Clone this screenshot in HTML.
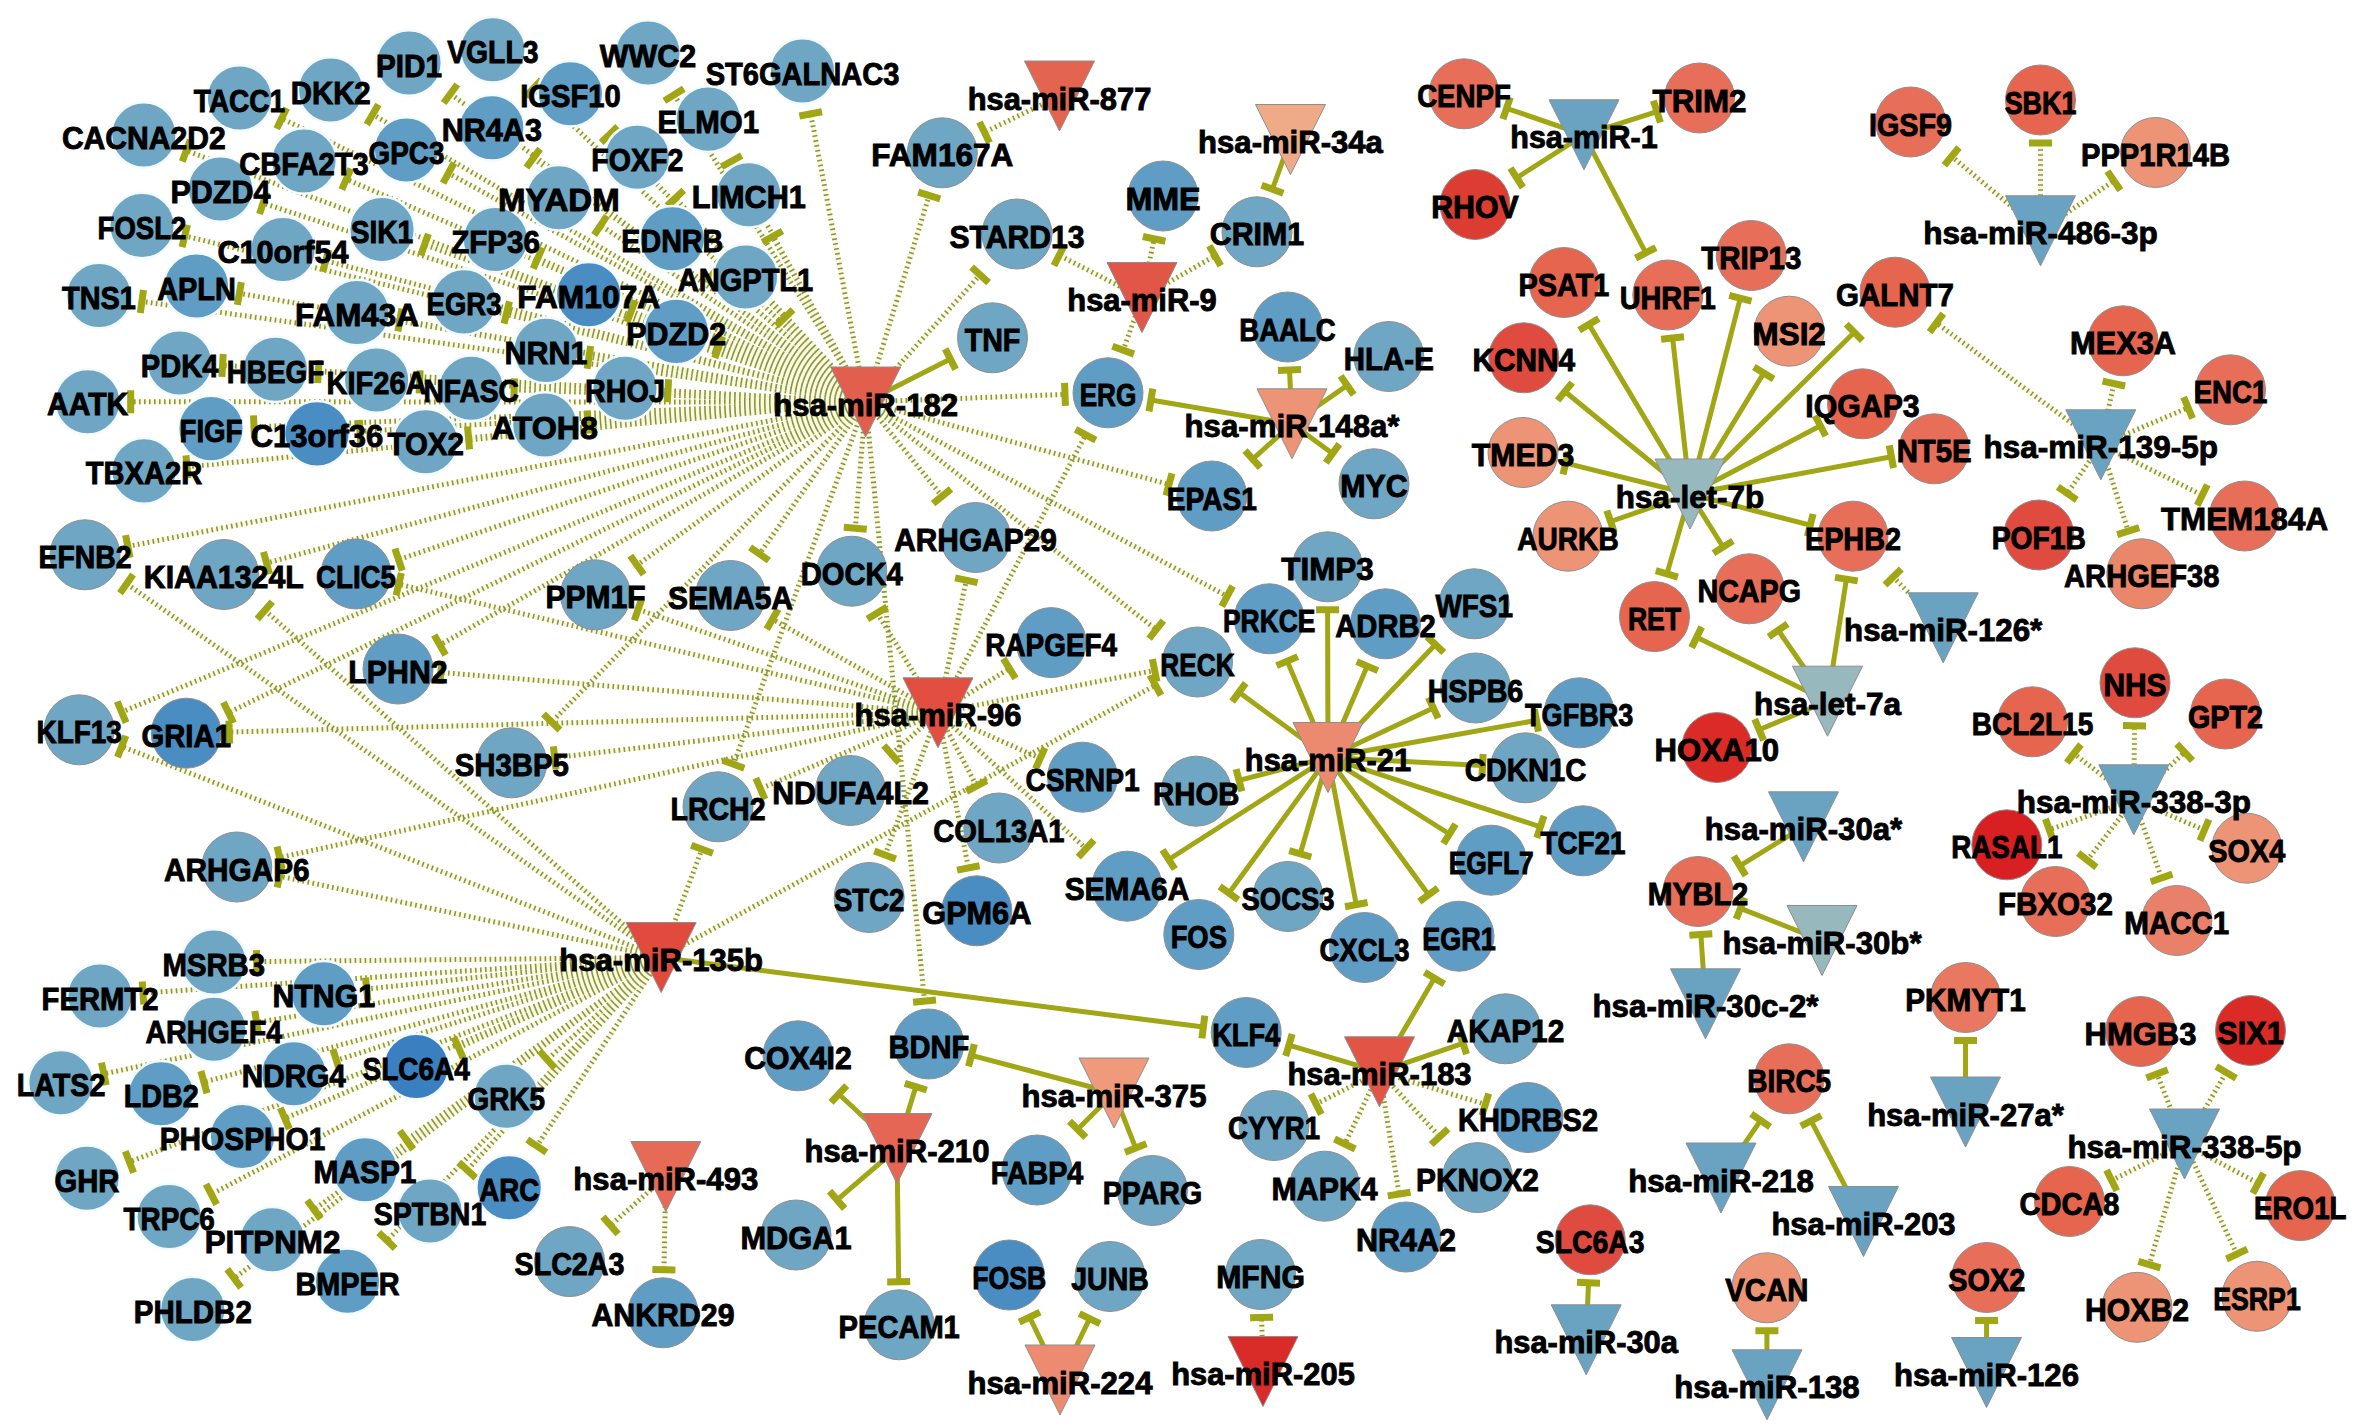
<!DOCTYPE html>
<html><head><meta charset="utf-8"><style>
html,body{margin:0;padding:0;background:#fff;overflow:hidden}
svg{display:block}
text{font-family:"Liberation Sans",sans-serif;font-weight:bold;font-size:31px;text-anchor:middle;fill:#000;stroke:#000;stroke-width:0.9px}
</style></head><body>
<svg width="2367" height="1427" viewBox="0 0 2367 1427">
<rect width="2367" height="1427" fill="#fff"/>
<path fill="none" stroke="#fafae0" stroke-width="5" d="M1059.5 96L984.5 132.3M1142 297.5L1059.1 255.4M1142 297.5L1154.1 238.8M1142 297.5L1215.1 255.7M1142 297.5L1123.2 350.2M865.6 402L186.3 150.7M865.6 402L281.7 118.5M865.6 402L372.6 114.4M865.6 402L450.4 93.8M865.6 402L533.6 88.4M865.6 402L609.5 134.6M865.6 402L533.3 158.2M865.6 402L448.5 173.1M865.6 402L346.4 179.2M865.6 402L263.1 203.1M865.6 402L184.8 235.9M865.6 402L325.7 260.7M865.6 402L424.5 244.7M865.6 402L537.8 258.1M865.6 402L600.6 225.4M865.6 402L141.9 301.5M865.6 402L239.4 293.4M865.6 402L399.9 320M865.6 402L506.8 312.6M865.6 402L631.2 311.2M865.6 402L588.9 357.3M865.6 402L674.1 94.8M865.6 402L810.7 113.9M865.6 402L731.6 161.1M865.6 402L675.4 198.1M865.6 402L772.4 236.7M865.6 402L713.4 273.5M865.6 402L784.7 317.8M865.6 402L718.7 347.2M865.6 402L668 390.7M865.6 402L222.6 365.4M865.6 402L318.4 371.6M865.6 402L419.6 381.9M865.6 402L514.2 389.8M865.6 402L587.8 421.9M865.6 402L130.7 401.8M865.6 402L254 426.9M865.6 402L360 431.4M865.6 402L468.6 437.9M865.6 402L187 466.8M865.6 402L929.2 195.4M865.6 402L980.1 274.9M865.6 402L1065 394.4M865.6 402L1169 484.4M865.6 402L1227.2 596.2M865.6 402L1156.2 629.6M865.6 402L942.1 496.3M865.6 402L855.3 528.3M865.6 402L759.5 553.9M865.6 402L637 565.1M865.6 402L398.6 559.6M865.6 402L266.5 563M865.6 402L127.9 546.4M865.6 402L121.6 712.1M865.6 402L228.4 712.7M865.6 402L439.9 645M865.6 402L551.7 722M865.6 402L733.5 764.2M865.6 402L924.5 1001M938 712.8L1085.7 434.8M938 712.8L966.3 580.3M938 712.8L877.2 613.1M938 712.8L772.5 619.2M938 712.8L638.1 609.4M938 712.8L398.8 584.2M938 712.8L441 672.5M938 712.8L229.2 732.1M938 712.8L554.7 757.7M938 712.8L279.6 857.6M938 712.8L760.4 788.7M938 712.8L891.5 754.1M938 712.8L885.1 855M938 712.8L968.4 867.9M938 712.8L976.6 785.9M938 712.8L1040.2 758.4M938 712.8L1086.1 848.7M938 712.8L1009.4 668.5M938 712.8L1154.6 670.4M661.2 957.5L256.7 961.6M661.2 957.5L143 993.1M661.2 957.5L366.7 989.1M661.2 957.5L256.6 1022.4M661.2 957.5L103.8 1073.8M661.2 957.5L204 1082.1M661.2 957.5L336.4 1060.3M661.2 957.5L458.6 1047.7M661.2 957.5L547.2 1059.6M661.2 957.5L284.9 1118.4M661.2 957.5L129.5 1161.9M661.2 957.5L406.5 1140M661.2 957.5L536.8 1146.1M661.2 957.5L211.3 1194.3M661.2 957.5L467.3 1170.1M661.2 957.5L314 1209.6M661.2 957.5L387 1240.5M661.2 957.5L234.1 1278.4M661.2 957.5L126.6 583.8M661.2 957.5L264.8 610.4M661.2 957.5L121.7 746.4M661.2 957.5L279.6 876.1M661.2 957.5L702 849.2M661.2 957.5L1155.5 685.1M1379.5 1071.8L1316.1 1104M1379.5 1071.8L1344.8 1144M1379.5 1071.8L1399.1 1194.1M1379.5 1071.8L1439.7 1136.7M1379.5 1071.8L1485.4 1104.4M665.8 1176.5L610.5 1225.4M665.8 1176.5L663.9 1269.8M1263 1371.5L1261.6 1317.5M2184.5 1144L2157.1 1074M2184.5 1144L2226.1 1072.4M2184.5 1144L2111.7 1180.4M2184.5 1144L2258.2 1183.2M2184.5 1144L2149.4 1264.6M2184.5 1144L2236.9 1254.1M2133.8 799.8L2134.5 725.7M2133.8 799.8L2073.8 753.6M2133.8 799.8L2184.7 752.2M2133.8 799.8L2049.3 829.7M2133.8 799.8L2204.4 830.1M2133.8 799.8L2087.3 860.2M2133.8 799.8L2161.6 878M1943.2 627.8L1893.1 576.9M2100.8 444.8L1936.4 322.9M2100.8 444.8L2113.8 383.6M2100.8 444.8L2188.1 407.7M2100.8 444.8L2202.3 495.1M2100.8 444.8L2128.2 531.1M2100.8 444.8L2067.3 493.4M2040.5 230.8L1951.6 156.4M2040.5 230.8L2040.5 143M2040.5 230.8L2113.9 180.8"/>
<path fill="none" stroke="#8c943c" stroke-width="5" stroke-dasharray="1.6 3.4" d="M1059.5 96L984.5 132.3M1142 297.5L1059.1 255.4M1142 297.5L1154.1 238.8M1142 297.5L1215.1 255.7M1142 297.5L1123.2 350.2M865.6 402L186.3 150.7M865.6 402L281.7 118.5M865.6 402L372.6 114.4M865.6 402L450.4 93.8M865.6 402L533.6 88.4M865.6 402L609.5 134.6M865.6 402L533.3 158.2M865.6 402L448.5 173.1M865.6 402L346.4 179.2M865.6 402L263.1 203.1M865.6 402L184.8 235.9M865.6 402L325.7 260.7M865.6 402L424.5 244.7M865.6 402L537.8 258.1M865.6 402L600.6 225.4M865.6 402L141.9 301.5M865.6 402L239.4 293.4M865.6 402L399.9 320M865.6 402L506.8 312.6M865.6 402L631.2 311.2M865.6 402L588.9 357.3M865.6 402L674.1 94.8M865.6 402L810.7 113.9M865.6 402L731.6 161.1M865.6 402L675.4 198.1M865.6 402L772.4 236.7M865.6 402L713.4 273.5M865.6 402L784.7 317.8M865.6 402L718.7 347.2M865.6 402L668 390.7M865.6 402L222.6 365.4M865.6 402L318.4 371.6M865.6 402L419.6 381.9M865.6 402L514.2 389.8M865.6 402L587.8 421.9M865.6 402L130.7 401.8M865.6 402L254 426.9M865.6 402L360 431.4M865.6 402L468.6 437.9M865.6 402L187 466.8M865.6 402L929.2 195.4M865.6 402L980.1 274.9M865.6 402L1065 394.4M865.6 402L1169 484.4M865.6 402L1227.2 596.2M865.6 402L1156.2 629.6M865.6 402L942.1 496.3M865.6 402L855.3 528.3M865.6 402L759.5 553.9M865.6 402L637 565.1M865.6 402L398.6 559.6M865.6 402L266.5 563M865.6 402L127.9 546.4M865.6 402L121.6 712.1M865.6 402L228.4 712.7M865.6 402L439.9 645M865.6 402L551.7 722M865.6 402L733.5 764.2M865.6 402L924.5 1001M938 712.8L1085.7 434.8M938 712.8L966.3 580.3M938 712.8L877.2 613.1M938 712.8L772.5 619.2M938 712.8L638.1 609.4M938 712.8L398.8 584.2M938 712.8L441 672.5M938 712.8L229.2 732.1M938 712.8L554.7 757.7M938 712.8L279.6 857.6M938 712.8L760.4 788.7M938 712.8L891.5 754.1M938 712.8L885.1 855M938 712.8L968.4 867.9M938 712.8L976.6 785.9M938 712.8L1040.2 758.4M938 712.8L1086.1 848.7M938 712.8L1009.4 668.5M938 712.8L1154.6 670.4M661.2 957.5L256.7 961.6M661.2 957.5L143 993.1M661.2 957.5L366.7 989.1M661.2 957.5L256.6 1022.4M661.2 957.5L103.8 1073.8M661.2 957.5L204 1082.1M661.2 957.5L336.4 1060.3M661.2 957.5L458.6 1047.7M661.2 957.5L547.2 1059.6M661.2 957.5L284.9 1118.4M661.2 957.5L129.5 1161.9M661.2 957.5L406.5 1140M661.2 957.5L536.8 1146.1M661.2 957.5L211.3 1194.3M661.2 957.5L467.3 1170.1M661.2 957.5L314 1209.6M661.2 957.5L387 1240.5M661.2 957.5L234.1 1278.4M661.2 957.5L126.6 583.8M661.2 957.5L264.8 610.4M661.2 957.5L121.7 746.4M661.2 957.5L279.6 876.1M661.2 957.5L702 849.2M661.2 957.5L1155.5 685.1M1379.5 1071.8L1316.1 1104M1379.5 1071.8L1344.8 1144M1379.5 1071.8L1399.1 1194.1M1379.5 1071.8L1439.7 1136.7M1379.5 1071.8L1485.4 1104.4M665.8 1176.5L610.5 1225.4M665.8 1176.5L663.9 1269.8M1263 1371.5L1261.6 1317.5M2184.5 1144L2157.1 1074M2184.5 1144L2226.1 1072.4M2184.5 1144L2111.7 1180.4M2184.5 1144L2258.2 1183.2M2184.5 1144L2149.4 1264.6M2184.5 1144L2236.9 1254.1M2133.8 799.8L2134.5 725.7M2133.8 799.8L2073.8 753.6M2133.8 799.8L2184.7 752.2M2133.8 799.8L2049.3 829.7M2133.8 799.8L2204.4 830.1M2133.8 799.8L2087.3 860.2M2133.8 799.8L2161.6 878M1943.2 627.8L1893.1 576.9M2100.8 444.8L1936.4 322.9M2100.8 444.8L2113.8 383.6M2100.8 444.8L2188.1 407.7M2100.8 444.8L2202.3 495.1M2100.8 444.8L2128.2 531.1M2100.8 444.8L2067.3 493.4M2040.5 230.8L1951.6 156.4M2040.5 230.8L2040.5 143M2040.5 230.8L2113.9 180.8"/>
<path fill="none" stroke="#a0a614" stroke-width="5" d="M1290.5 139.5L1272.4 189.2M865.6 402L950.4 359.1M661.2 957.5L1203.3 1027M1292 423.8L1289.5 370M1292 423.8L1347.2 385.4M1292 423.8L1150.9 400M1292 423.8L1252.7 459.1M1292 423.8L1332.5 453.4M1328 757.5L1239 692.3M1328 757.5L1287.2 661.1M1328 757.5L1327.6 609.7M1328 757.5L1367.3 666.1M1328 757.5L1435.4 644.5M1328 757.5L1433.3 707.9M1328 757.5L1536.4 720.4M1328 757.5L1482.5 765.5M1328 757.5L1239 780.3M1328 757.5L1540.4 826.8M1328 757.5L1449.5 834M1328 757.5L1168.7 859.5M1328 757.5L1300.3 853.8M1328 757.5L1229 893M1328 757.5L1356.3 904.6M1328 757.5L1428.6 894.8M1379.5 1071.8L1288.9 1045.1M1379.5 1071.8L1434.4 978.2M1379.5 1071.8L1462.9 1043.3M1114 1093L971.5 1055.3M1114 1093L1077.7 1129.3M1114 1093L1135.7 1148.1M897 1148.5L838.8 1094M897 1148.5L915.8 1086.7M897 1148.5L837.1 1199.8M897 1148.5L898.7 1281.8M1060 1380L1029.6 1317.2M1060 1380L1089.6 1318.7M1586.2 1339.8L1588.5 1282.8M1767 1384.8L1766.9 1330.7M1986.5 1372.5L1986.6 1320.5M1721 1178L1760.6 1120.3M1863.5 1221.5L1811.1 1120.8M1965.5 1112L1965.5 1040.5M1705.5 1003.8L1700.9 934.5M1822 940.5L1740.4 908.3M1803.5 826.8L1739.8 865.8M1827.5 701.2L1696.7 637.2M1827.5 701.2L1778.2 630.3M1827.5 701.2L1846.4 579.2M1827.5 701.2L1759.1 729.8M1690 494L1588.9 324.4M1690 494L1672.6 338M1690 494L1740.3 298.2M1690 494L1763.7 373.1M1690 494L1854.3 332.3M1690 494L1564.9 391.5M1690 494L1820.4 425.8M1690 494L1565.8 463.1M1690 494L1891.4 456.7M1690 494L1610.6 521.5M1690 494L1810.3 525.2M1690 494L1666.9 573.9M1690 494L1723.1 547M1584 134.8L1506.6 108.3M1584 134.8L1656.9 111.6M1584 134.8L1516.7 177.8M1584 134.8L1645.8 252.9"/>
<path fill="none" stroke="#a0a614" stroke-width="7" d="M989.5 142.7L979.5 122M1283.3 193.2L1261.6 185.3M1053.9 265.7L1064.3 245.2M1142.9 236.5L1165.4 241.2M1209.3 245.7L1220.8 265.7M1134 354.1L1112.4 346.3M945.2 348.8L955.6 369.3M182.3 161.5L190.2 139.9M276.7 128.8L286.7 108.1M366.8 124.4L378.4 104.5M443.6 103L457.3 84.5M525.7 96.7L541.5 80M601.2 142.5L617.8 126.6M526.4 167.5L540.1 148.9M443 183.1L454 163M341.8 189.7L350.9 168.6M259.5 214L266.7 192.1M182 247.1L187.5 224.8M322.8 271.8L328.7 249.6M420.7 255.5L428.4 233.8M533.2 268.6L542.4 247.6M594.2 235L606.9 215.9M140.3 312.9L143.5 290.1M237.4 304.8L241.3 282.1M397.9 331.4L401.9 308.7M504 323.7L509.5 301.4M627 322L635.3 300.5M587.1 368.7L590.7 346M664.3 100.9L683.8 88.7M799.4 116L822 111.7M721.6 166.7L741.7 155.5M667 205.9L683.8 190.2M762.4 242.3L782.5 231M706 282.3L720.8 264.7M776.4 325.7L793 309.8M714.7 358L722.7 336.5M667.3 402.1L668.6 379.2M221.9 376.9L223.2 354M317.7 383.1L319 360.1M419.1 393.4L420.1 370.4M513.8 401.3L514.6 378.3M588.6 433.4L587 410.4M130.7 413.3L130.7 390.3M254.5 438.3L253.5 415.4M360.7 442.9L359.3 419.9M469.6 449.4L467.5 426.5M188.1 478.2L185.9 455.3M918.2 192.1L940.2 198.8M971.6 267.2L988.6 282.6M1064.6 382.9L1065.4 405.9M1172 473.3L1166 495.5M1232.6 586L1221.8 606.3M1163.3 620.6L1149.1 638.7M951 489L933.1 503.5M866.7 529.2L843.8 527.3M768.9 560.5L750.1 547.4M643.7 574.5L630.3 555.8M402.3 570.5L394.9 548.7M269.5 574.1L263.5 551.9M130.1 557.7L125.6 535.1M126.1 722.7L117.2 701.5M233.5 723L223.4 702.3M445.6 655L434.2 635.1M559.9 730.1L543.5 714M744.3 768.2L722.7 760.3M936 999.9L913.1 1002.2M1075.5 429.4L1095.8 440.2M955.1 577.9L977.6 582.7M867.4 619.1L887.1 607.1M766.8 629.2L778.1 609.2M634.3 620.3L641.8 598.5M396.1 595.4L401.4 573M440 683.9L441.9 661M229.6 743.6L228.9 720.6M556 769.1L553.4 746.3M282 868.8L277.1 846.4M764.9 799.2L755.8 778.1M899.1 762.7L883.8 745.5M895.8 859L874.3 851M979.6 865.7L957.1 870.1M986.7 780.6L966.4 791.3M1044.9 747.9L1035.5 768.9M1093.9 840.2L1078.3 857.2M1003.3 658.7L1015.5 678.3M1152.4 659.1L1156.9 681.7M1204.8 1015.6L1201.9 1038.4M256.9 973.1L256.6 950.1M143.8 1004.5L142.2 981.6M367.9 1000.6L365.5 977.7M258.5 1033.7L254.8 1011M106.2 1085.1L101.5 1062.6M207 1093.2L200.9 1071M339.8 1071.2L332.9 1049.3M463.2 1058.2L453.9 1037.2M554.9 1068.2L539.5 1051M289.4 1129L280.3 1107.8M133.6 1172.7L125.3 1151.2M413.2 1149.4L399.8 1130.7M546.4 1152.4L527.2 1139.7M216.7 1204.5L206 1184.2M475.8 1177.8L458.8 1162.3M320.7 1218.9L307.2 1200.3M395.2 1248.5L378.7 1232.5M241.1 1287.6L227.2 1269.2M120 593.2L133.1 574.4M257.2 619.1L272.3 601.8M117.5 757.1L125.9 735.7M277.2 887.4L282 864.9M691.2 845.2L712.8 853.3M1149.9 675.1L1161 695.2M1278 370.5L1301 369.5M1340.6 376L1353.7 394.8M1149 411.3L1152.8 388.6M1260.4 467.7L1245 450.6M1339.3 444.1L1325.8 462.7M1232.2 701.6L1245.7 683.1M1276.6 665.6L1297.8 656.6M1316.1 609.8L1339.1 609.7M1356.7 661.6L1377.9 670.6M1427.1 636.6L1443.8 652.5M1428.4 697.5L1438.2 718.3M1534.4 709.1L1538.4 731.7M1483.1 754L1481.9 777M1241.9 791.4L1236.1 769.2M1544 815.9L1536.8 837.8M1455.6 824.2L1443.4 843.7M1174.9 869.2L1162.5 849.8M1311.3 857L1289.2 850.6M1238.3 899.8L1219.7 886.3M1367.6 902.5L1345 906.8M1437.9 888L1419.3 901.6M1285.7 1056.1L1292.2 1034M1424.5 972.3L1444.3 984M1459.2 1032.4L1466.6 1054.2M1321.3 1114.3L1310.9 1093.8M1355.2 1149L1334.5 1139M1410.5 1192.3L1387.8 1195.9M1448.1 1128.9L1431.2 1144.5M1488.7 1093.4L1482 1115.4M968.5 1066.4L974.4 1044.2M1085.8 1137.5L1069.5 1121.2M1146.4 1143.8L1125 1152.3M831 1102.4L846.7 1085.6M904.8 1083.3L926.8 1090M844.6 1208.6L829.6 1191.1M910.2 1281.6L887.2 1281.9M618.1 1234L602.9 1216.7M675.4 1270L652.4 1269.5M1019.3 1322.2L1040 1312.2M1079.3 1313.7L1100 1323.7M1250.1 1317.8L1273.1 1317.2M1577 1282.3L1600 1283.2M1755.4 1330.8L1778.4 1330.7M1975.1 1320.5L1998.1 1320.5M1751.2 1113.8L1770.1 1126.9M1800.9 1126.2L1821.3 1115.5M1954 1040.5L1977 1040.5M1689.4 935.2L1712.3 933.7M1736.2 919L1744.7 897.6M1745.8 875.6L1733.8 856M2146.4 1078.1L2167.8 1069.8M2216.2 1066.6L2236.1 1078.2M2116.8 1190.7L2106.5 1170.1M2263.6 1173.1L2252.8 1193.4M2160.5 1267.8L2138.4 1261.4M2247.3 1249.1L2226.5 1259M2123 725.6L2146 725.9M2066.8 762.7L2080.9 744.5M2176.8 743.8L2192.5 760.6M2053.1 840.5L2045.4 818.8M2208.9 819.5L2199.9 840.6M2096.4 867.2L2078.2 853.1M2172.4 874.1L2150.8 881.8M1691.6 647.6L1701.7 626.9M1768.7 636.9L1787.6 623.8M1835 577.4L1857.7 580.9M1763.6 740.4L1754.7 719.2M1885 585L1901.3 568.9M1579.1 330.3L1598.8 318.5M1661.1 339.2L1684 336.7M1729.2 295.4L1751.5 301.1M1753.9 367.1L1773.6 379.1M1846.2 324.1L1862.4 340.5M1557.6 400.4L1572.2 382.6M1815.1 415.6L1825.7 436M1563 474.3L1568.5 452M1889.3 445.4L1893.5 468M1614.3 532.4L1606.8 510.6M1813.1 514L1807.4 536.3M1677.9 577.1L1655.8 570.7M1732.9 540.9L1713.4 553.1M1929.6 332.2L1943.3 313.7M2102.6 381.2L2125.1 386M2183.6 397.1L2192.6 418.3M2207.4 484.8L2197.2 505.4M2139.2 527.6L2117.2 534.6M2076.8 499.9L2057.8 486.9M1502.9 119.2L1510.3 97.4M1653.4 100.6L1660.4 122.5M1522.9 187.5L1510.5 168.1M1655.9 247.6L1635.6 258.2M1944.3 165.2L1959 147.6M2029 143L2052 143M2107.4 171.3L2120.4 190.3"/>
<circle cx="143.8" cy="135" r="32.8" fill="#6fa6c3" stroke="#f4fbff" stroke-width="2.5"/>
<circle cx="239.5" cy="98" r="32.8" fill="#6fa6c3" stroke="#f4fbff" stroke-width="2.5"/>
<circle cx="330.7" cy="90" r="32.8" fill="#6fa6c3" stroke="#f4fbff" stroke-width="2.5"/>
<circle cx="409" cy="63" r="32.8" fill="#6fa6c3" stroke="#f4fbff" stroke-width="2.5"/>
<circle cx="492.8" cy="49.8" r="32.8" fill="#6fa6c3" stroke="#f4fbff" stroke-width="2.5"/>
<circle cx="570.4" cy="93.8" r="32.8" fill="#5f9dc5" stroke="#f4fbff" stroke-width="2.5"/>
<circle cx="491.8" cy="127.8" r="32.8" fill="#5f9dc5" stroke="#f4fbff" stroke-width="2.5"/>
<circle cx="406.5" cy="150" r="32.8" fill="#5f9dc5" stroke="#f4fbff" stroke-width="2.5"/>
<circle cx="304" cy="161" r="32.8" fill="#6fa6c3" stroke="#f4fbff" stroke-width="2.5"/>
<circle cx="220.5" cy="189" r="32.8" fill="#6fa6c3" stroke="#f4fbff" stroke-width="2.5"/>
<circle cx="142" cy="225.5" r="32.8" fill="#6fa6c3" stroke="#f4fbff" stroke-width="2.5"/>
<circle cx="283" cy="249.5" r="32.8" fill="#6fa6c3" stroke="#f4fbff" stroke-width="2.5"/>
<circle cx="382" cy="229.5" r="32.8" fill="#6fa6c3" stroke="#f4fbff" stroke-width="2.5"/>
<circle cx="495.5" cy="239.5" r="32.8" fill="#6fa6c3" stroke="#f4fbff" stroke-width="2.5"/>
<circle cx="558.9" cy="197.7" r="32.8" fill="#6fa6c3" stroke="#f4fbff" stroke-width="2.5"/>
<circle cx="99" cy="295.5" r="32.8" fill="#6fa6c3" stroke="#f4fbff" stroke-width="2.5"/>
<circle cx="196.5" cy="286" r="32.8" fill="#5f9dc5" stroke="#f4fbff" stroke-width="2.5"/>
<circle cx="357" cy="312.5" r="32.8" fill="#6fa6c3" stroke="#f4fbff" stroke-width="2.5"/>
<circle cx="464" cy="301.9" r="32.8" fill="#6fa6c3" stroke="#f4fbff" stroke-width="2.5"/>
<circle cx="588.7" cy="294.8" r="32.8" fill="#4a8dc2" stroke="#f4fbff" stroke-width="2.5"/>
<circle cx="546" cy="350.4" r="32.8" fill="#6fa6c3" stroke="#f4fbff" stroke-width="2.5"/>
<circle cx="648" cy="53" r="32.8" fill="#6fa6c3" stroke="#f4fbff" stroke-width="2.5"/>
<circle cx="802.5" cy="71" r="32.8" fill="#6fa6c3" stroke="#f4fbff" stroke-width="2.5"/>
<circle cx="708.3" cy="119.1" r="32.8" fill="#6fa6c3" stroke="#f4fbff" stroke-width="2.5"/>
<circle cx="637.3" cy="157.2" r="32.8" fill="#6fa6c3" stroke="#f4fbff" stroke-width="2.5"/>
<circle cx="748.8" cy="194.7" r="32.8" fill="#6fa6c3" stroke="#f4fbff" stroke-width="2.5"/>
<circle cx="672.3" cy="238.8" r="32.8" fill="#5f9dc5" stroke="#f4fbff" stroke-width="2.5"/>
<circle cx="745.5" cy="277" r="32.8" fill="#6fa6c3" stroke="#f4fbff" stroke-width="2.5"/>
<circle cx="676.2" cy="331.4" r="32.8" fill="#5f9dc5" stroke="#f4fbff" stroke-width="2.5"/>
<circle cx="625" cy="388.2" r="32.8" fill="#6fa6c3" stroke="#f4fbff" stroke-width="2.5"/>
<circle cx="179.6" cy="363" r="32.8" fill="#6fa6c3" stroke="#f4fbff" stroke-width="2.5"/>
<circle cx="275.4" cy="369.2" r="32.8" fill="#6fa6c3" stroke="#f4fbff" stroke-width="2.5"/>
<circle cx="376.6" cy="380" r="32.8" fill="#6fa6c3" stroke="#f4fbff" stroke-width="2.5"/>
<circle cx="471.2" cy="388.3" r="32.8" fill="#6fa6c3" stroke="#f4fbff" stroke-width="2.5"/>
<circle cx="544.8" cy="425" r="32.8" fill="#6fa6c3" stroke="#f4fbff" stroke-width="2.5"/>
<circle cx="87.7" cy="401.8" r="32.8" fill="#6fa6c3" stroke="#f4fbff" stroke-width="2.5"/>
<circle cx="211" cy="428.6" r="32.8" fill="#5f9dc5" stroke="#f4fbff" stroke-width="2.5"/>
<circle cx="317" cy="433.9" r="32.8" fill="#4a8dc2" stroke="#f4fbff" stroke-width="2.5"/>
<circle cx="425.6" cy="441.8" r="32.8" fill="#6fa6c3" stroke="#f4fbff" stroke-width="2.5"/>
<circle cx="144" cy="470.9" r="32.8" fill="#6fa6c3" stroke="#f4fbff" stroke-width="2.5"/>
<circle cx="213.8" cy="962" r="32.8" fill="#6fa6c3" stroke="#f4fbff" stroke-width="2.5"/>
<circle cx="100" cy="996" r="32.8" fill="#6fa6c3" stroke="#f4fbff" stroke-width="2.5"/>
<circle cx="323.8" cy="993.8" r="32.8" fill="#5f9dc5" stroke="#f4fbff" stroke-width="2.5"/>
<circle cx="213.8" cy="1029.2" r="32.8" fill="#6fa6c3" stroke="#f4fbff" stroke-width="2.5"/>
<circle cx="61" cy="1082.8" r="32.8" fill="#6fa6c3" stroke="#f4fbff" stroke-width="2.5"/>
<circle cx="161.2" cy="1093.8" r="32.8" fill="#5f9dc5" stroke="#f4fbff" stroke-width="2.5"/>
<circle cx="293.8" cy="1073.8" r="32.8" fill="#5f9dc5" stroke="#f4fbff" stroke-width="2.5"/>
<circle cx="416.2" cy="1066.5" r="32.8" fill="#3a80c0" stroke="#f4fbff" stroke-width="2.5"/>
<circle cx="506.2" cy="1096.2" r="32.8" fill="#6fa6c3" stroke="#f4fbff" stroke-width="2.5"/>
<circle cx="242.5" cy="1136.5" r="32.8" fill="#5f9dc5" stroke="#f4fbff" stroke-width="2.5"/>
<circle cx="87" cy="1178.2" r="32.8" fill="#6fa6c3" stroke="#f4fbff" stroke-width="2.5"/>
<circle cx="365" cy="1169.8" r="32.8" fill="#5f9dc5" stroke="#f4fbff" stroke-width="2.5"/>
<circle cx="509.2" cy="1187.8" r="32.8" fill="#4a8dc2" stroke="#f4fbff" stroke-width="2.5"/>
<circle cx="169.2" cy="1216.5" r="32.8" fill="#6fa6c3" stroke="#f4fbff" stroke-width="2.5"/>
<circle cx="430" cy="1211" r="32.8" fill="#6fa6c3" stroke="#f4fbff" stroke-width="2.5"/>
<circle cx="272.5" cy="1239.8" r="32.8" fill="#6fa6c3" stroke="#f4fbff" stroke-width="2.5"/>
<circle cx="347.5" cy="1281.2" r="32.8" fill="#5f9dc5" stroke="#f4fbff" stroke-width="2.5"/>
<circle cx="192.8" cy="1309.5" r="32.8" fill="#6fa6c3" stroke="#f4fbff" stroke-width="2.5"/>
<circle cx="942.3" cy="152.8" r="35" fill="#6fa6c3" stroke="#8e8e8e" stroke-width="1"/>
<circle cx="1163" cy="196" r="35" fill="#5f9dc5" stroke="#8e8e8e" stroke-width="1"/>
<circle cx="1017" cy="234" r="35" fill="#6fa6c3" stroke="#8e8e8e" stroke-width="1"/>
<circle cx="992.5" cy="337.8" r="35" fill="#6fa6c3" stroke="#8e8e8e" stroke-width="1"/>
<circle cx="1257" cy="231.8" r="35" fill="#6fa6c3" stroke="#8e8e8e" stroke-width="1"/>
<circle cx="1287.5" cy="327" r="35" fill="#5f9dc5" stroke="#8e8e8e" stroke-width="1"/>
<circle cx="1388.8" cy="356.5" r="35" fill="#6fa6c3" stroke="#8e8e8e" stroke-width="1"/>
<circle cx="1108" cy="392.8" r="35" fill="#5f9dc5" stroke="#8e8e8e" stroke-width="1"/>
<circle cx="1211.8" cy="496" r="35" fill="#5f9dc5" stroke="#8e8e8e" stroke-width="1"/>
<circle cx="1374" cy="483.8" r="35" fill="#6fa6c3" stroke="#8e8e8e" stroke-width="1"/>
<circle cx="1327.5" cy="566.8" r="35" fill="#6fa6c3" stroke="#8e8e8e" stroke-width="1"/>
<circle cx="1269.2" cy="618.8" r="35" fill="#5f9dc5" stroke="#8e8e8e" stroke-width="1"/>
<circle cx="1385.5" cy="623.8" r="35" fill="#5f9dc5" stroke="#8e8e8e" stroke-width="1"/>
<circle cx="1474.2" cy="603.8" r="35" fill="#6fa6c3" stroke="#8e8e8e" stroke-width="1"/>
<circle cx="1197.5" cy="662" r="35" fill="#6fa6c3" stroke="#8e8e8e" stroke-width="1"/>
<circle cx="1475.5" cy="688" r="35" fill="#6fa6c3" stroke="#8e8e8e" stroke-width="1"/>
<circle cx="1579.2" cy="712.8" r="35" fill="#5f9dc5" stroke="#8e8e8e" stroke-width="1"/>
<circle cx="1525.5" cy="767.8" r="35" fill="#6fa6c3" stroke="#8e8e8e" stroke-width="1"/>
<circle cx="1196.2" cy="791.2" r="35" fill="#6fa6c3" stroke="#8e8e8e" stroke-width="1"/>
<circle cx="1583" cy="840.8" r="35" fill="#5f9dc5" stroke="#8e8e8e" stroke-width="1"/>
<circle cx="1491.2" cy="860.2" r="35" fill="#5f9dc5" stroke="#8e8e8e" stroke-width="1"/>
<circle cx="1127" cy="886.2" r="35" fill="#5f9dc5" stroke="#8e8e8e" stroke-width="1"/>
<circle cx="1288" cy="896.5" r="35" fill="#6fa6c3" stroke="#8e8e8e" stroke-width="1"/>
<circle cx="1198.8" cy="934.5" r="35" fill="#5f9dc5" stroke="#8e8e8e" stroke-width="1"/>
<circle cx="1364.5" cy="947.5" r="35" fill="#5f9dc5" stroke="#8e8e8e" stroke-width="1"/>
<circle cx="1459" cy="936.2" r="35" fill="#5f9dc5" stroke="#8e8e8e" stroke-width="1"/>
<circle cx="85" cy="554.8" r="35" fill="#6fa6c3" stroke="#8e8e8e" stroke-width="1"/>
<circle cx="223.8" cy="574.5" r="35" fill="#6fa6c3" stroke="#8e8e8e" stroke-width="1"/>
<circle cx="356" cy="574" r="35" fill="#5f9dc5" stroke="#8e8e8e" stroke-width="1"/>
<circle cx="398" cy="669" r="35" fill="#5f9dc5" stroke="#8e8e8e" stroke-width="1"/>
<circle cx="595.5" cy="594.8" r="35" fill="#6fa6c3" stroke="#8e8e8e" stroke-width="1"/>
<circle cx="730.5" cy="595.5" r="35" fill="#6fa6c3" stroke="#8e8e8e" stroke-width="1"/>
<circle cx="851.8" cy="571.2" r="35" fill="#6fa6c3" stroke="#8e8e8e" stroke-width="1"/>
<circle cx="975.5" cy="537.5" r="35" fill="#6fa6c3" stroke="#8e8e8e" stroke-width="1"/>
<circle cx="1051.2" cy="642.6" r="35" fill="#5f9dc5" stroke="#8e8e8e" stroke-width="1"/>
<circle cx="79.2" cy="729.8" r="35" fill="#6fa6c3" stroke="#8e8e8e" stroke-width="1"/>
<circle cx="186.2" cy="733.2" r="35" fill="#4a8dc2" stroke="#8e8e8e" stroke-width="1"/>
<circle cx="511.8" cy="762.8" r="35" fill="#6fa6c3" stroke="#8e8e8e" stroke-width="1"/>
<circle cx="718" cy="806.8" r="35" fill="#6fa6c3" stroke="#8e8e8e" stroke-width="1"/>
<circle cx="850.5" cy="790.5" r="35" fill="#6fa6c3" stroke="#8e8e8e" stroke-width="1"/>
<circle cx="1082.5" cy="777.2" r="35" fill="#5f9dc5" stroke="#8e8e8e" stroke-width="1"/>
<circle cx="998.8" cy="828" r="35" fill="#6fa6c3" stroke="#8e8e8e" stroke-width="1"/>
<circle cx="236.8" cy="867" r="35" fill="#6fa6c3" stroke="#8e8e8e" stroke-width="1"/>
<circle cx="869.2" cy="897.5" r="35" fill="#6fa6c3" stroke="#8e8e8e" stroke-width="1"/>
<circle cx="976.8" cy="910.8" r="35" fill="#4a8dc2" stroke="#8e8e8e" stroke-width="1"/>
<circle cx="798" cy="1055.8" r="35" fill="#5f9dc5" stroke="#8e8e8e" stroke-width="1"/>
<circle cx="928.8" cy="1044" r="35" fill="#5f9dc5" stroke="#8e8e8e" stroke-width="1"/>
<circle cx="1037" cy="1170" r="35" fill="#5f9dc5" stroke="#8e8e8e" stroke-width="1"/>
<circle cx="1152.5" cy="1190.5" r="35" fill="#6fa6c3" stroke="#8e8e8e" stroke-width="1"/>
<circle cx="796" cy="1235" r="35" fill="#6fa6c3" stroke="#8e8e8e" stroke-width="1"/>
<circle cx="569.5" cy="1261.6" r="35" fill="#6fa6c3" stroke="#8e8e8e" stroke-width="1"/>
<circle cx="663" cy="1312.8" r="35" fill="#5f9dc5" stroke="#8e8e8e" stroke-width="1"/>
<circle cx="899.2" cy="1324.8" r="35" fill="#6fa6c3" stroke="#8e8e8e" stroke-width="1"/>
<circle cx="1009.2" cy="1275" r="35" fill="#4a8dc2" stroke="#8e8e8e" stroke-width="1"/>
<circle cx="1110" cy="1276.5" r="35" fill="#6fa6c3" stroke="#8e8e8e" stroke-width="1"/>
<circle cx="1260.5" cy="1274.5" r="35" fill="#6fa6c3" stroke="#8e8e8e" stroke-width="1"/>
<circle cx="1246.2" cy="1032.5" r="35" fill="#5f9dc5" stroke="#8e8e8e" stroke-width="1"/>
<circle cx="1505.5" cy="1028.8" r="35" fill="#6fa6c3" stroke="#8e8e8e" stroke-width="1"/>
<circle cx="1274" cy="1125.5" r="35" fill="#6fa6c3" stroke="#8e8e8e" stroke-width="1"/>
<circle cx="1528" cy="1117.5" r="35" fill="#5f9dc5" stroke="#8e8e8e" stroke-width="1"/>
<circle cx="1324.6" cy="1186.2" r="35" fill="#6fa6c3" stroke="#8e8e8e" stroke-width="1"/>
<circle cx="1477.5" cy="1177.6" r="35" fill="#6fa6c3" stroke="#8e8e8e" stroke-width="1"/>
<circle cx="1406" cy="1237" r="35" fill="#5f9dc5" stroke="#8e8e8e" stroke-width="1"/>
<circle cx="1590.2" cy="1239.8" r="35" fill="#e04b40" stroke="#8e8e8e" stroke-width="1"/>
<circle cx="1464" cy="93.8" r="35" fill="#e76e58" stroke="#8e8e8e" stroke-width="1"/>
<circle cx="1699.5" cy="98" r="35" fill="#e76e58" stroke="#8e8e8e" stroke-width="1"/>
<circle cx="1475" cy="204.5" r="35" fill="#dd3c32" stroke="#8e8e8e" stroke-width="1"/>
<circle cx="1910.5" cy="122" r="35" fill="#e76e58" stroke="#8e8e8e" stroke-width="1"/>
<circle cx="2040.5" cy="100" r="35" fill="#e5654f" stroke="#8e8e8e" stroke-width="1"/>
<circle cx="2155.5" cy="152.5" r="35" fill="#ed9476" stroke="#8e8e8e" stroke-width="1"/>
<circle cx="1564" cy="282.5" r="35" fill="#e5654f" stroke="#8e8e8e" stroke-width="1"/>
<circle cx="1667.8" cy="295" r="35" fill="#e76e58" stroke="#8e8e8e" stroke-width="1"/>
<circle cx="1751.3" cy="255.5" r="35" fill="#e76e58" stroke="#8e8e8e" stroke-width="1"/>
<circle cx="1895" cy="292.2" r="35" fill="#e5654f" stroke="#8e8e8e" stroke-width="1"/>
<circle cx="1789.2" cy="331.2" r="35" fill="#ed9476" stroke="#8e8e8e" stroke-width="1"/>
<circle cx="1523.8" cy="357.8" r="35" fill="#e04b40" stroke="#8e8e8e" stroke-width="1"/>
<circle cx="1862.5" cy="403.8" r="35" fill="#e5654f" stroke="#8e8e8e" stroke-width="1"/>
<circle cx="2123" cy="340.8" r="35" fill="#e5654f" stroke="#8e8e8e" stroke-width="1"/>
<circle cx="2230.5" cy="389.8" r="35" fill="#e76e58" stroke="#8e8e8e" stroke-width="1"/>
<circle cx="1523" cy="452.5" r="35" fill="#ed9476" stroke="#8e8e8e" stroke-width="1"/>
<circle cx="1934.2" cy="448.8" r="35" fill="#e76e58" stroke="#8e8e8e" stroke-width="1"/>
<circle cx="1568" cy="536.2" r="35" fill="#ed9476" stroke="#8e8e8e" stroke-width="1"/>
<circle cx="1853" cy="536.2" r="35" fill="#e76e58" stroke="#8e8e8e" stroke-width="1"/>
<circle cx="2038.8" cy="535" r="35" fill="#e04b40" stroke="#8e8e8e" stroke-width="1"/>
<circle cx="2244.5" cy="516" r="35" fill="#e76e58" stroke="#8e8e8e" stroke-width="1"/>
<circle cx="2141.8" cy="573.8" r="35" fill="#ea8669" stroke="#8e8e8e" stroke-width="1"/>
<circle cx="1654.5" cy="616.6" r="35" fill="#e5654f" stroke="#8e8e8e" stroke-width="1"/>
<circle cx="1749.2" cy="588.8" r="35" fill="#e76e58" stroke="#8e8e8e" stroke-width="1"/>
<circle cx="2135" cy="682.8" r="35" fill="#e04b40" stroke="#8e8e8e" stroke-width="1"/>
<circle cx="2032.5" cy="721.8" r="35" fill="#e5654f" stroke="#8e8e8e" stroke-width="1"/>
<circle cx="2225.5" cy="714" r="35" fill="#e5654f" stroke="#8e8e8e" stroke-width="1"/>
<circle cx="1716.8" cy="747.5" r="35" fill="#da2b27" stroke="#8e8e8e" stroke-width="1"/>
<circle cx="2006.8" cy="844.8" r="35" fill="#d81f22" stroke="#8e8e8e" stroke-width="1"/>
<circle cx="2246.8" cy="848.2" r="35" fill="#ed9476" stroke="#8e8e8e" stroke-width="1"/>
<circle cx="2055.5" cy="901.5" r="35" fill="#e76e58" stroke="#8e8e8e" stroke-width="1"/>
<circle cx="2176.8" cy="920.5" r="35" fill="#e8806a" stroke="#8e8e8e" stroke-width="1"/>
<circle cx="1698" cy="891.5" r="35" fill="#e76e58" stroke="#8e8e8e" stroke-width="1"/>
<circle cx="1965.5" cy="997.5" r="35" fill="#e8785f" stroke="#8e8e8e" stroke-width="1"/>
<circle cx="2140.5" cy="1031.5" r="35" fill="#e5654f" stroke="#8e8e8e" stroke-width="1"/>
<circle cx="2250.5" cy="1030.5" r="35" fill="#da2b27" stroke="#8e8e8e" stroke-width="1"/>
<circle cx="1789.2" cy="1078.8" r="35" fill="#e76e58" stroke="#8e8e8e" stroke-width="1"/>
<circle cx="2069.5" cy="1201.5" r="35" fill="#e5654f" stroke="#8e8e8e" stroke-width="1"/>
<circle cx="2300.3" cy="1205.6" r="35" fill="#e5654f" stroke="#8e8e8e" stroke-width="1"/>
<circle cx="1766.8" cy="1287.8" r="35" fill="#ed9476" stroke="#8e8e8e" stroke-width="1"/>
<circle cx="1986.8" cy="1277.5" r="35" fill="#e76e58" stroke="#8e8e8e" stroke-width="1"/>
<circle cx="2137" cy="1307.3" r="35" fill="#ed9476" stroke="#8e8e8e" stroke-width="1"/>
<circle cx="2257" cy="1296.3" r="35" fill="#ed9476" stroke="#8e8e8e" stroke-width="1"/>
<path d="M1024.5 61H1094.5L1059.5 131Z" fill="#e4654f" stroke="#8e8e8e" stroke-width="1"/>
<path d="M1255.5 104.5H1325.5L1290.5 174.5Z" fill="#efaa88" stroke="#8e8e8e" stroke-width="1"/>
<path d="M1107 262.5H1177L1142 332.5Z" fill="#e15646" stroke="#8e8e8e" stroke-width="1"/>
<path d="M830.6 367H900.6L865.6 437Z" fill="#e35f4d" stroke="#8e8e8e" stroke-width="1"/>
<path d="M1257 388.8H1327L1292 458.8Z" fill="#ed9376" stroke="#8e8e8e" stroke-width="1"/>
<path d="M903 677.8H973L938 747.8Z" fill="#e24f40" stroke="#8e8e8e" stroke-width="1"/>
<path d="M1293 722.5H1363L1328 792.5Z" fill="#ec8a6f" stroke="#8e8e8e" stroke-width="1"/>
<path d="M626.2 922.5H696.2L661.2 992.5Z" fill="#e04b3e" stroke="#8e8e8e" stroke-width="1"/>
<path d="M1079 1058H1149L1114 1128Z" fill="#ee9a7b" stroke="#8e8e8e" stroke-width="1"/>
<path d="M862 1113.5H932L897 1183.5Z" fill="#e56654" stroke="#8e8e8e" stroke-width="1"/>
<path d="M630.8 1141.5H700.8L665.8 1211.5Z" fill="#e66a55" stroke="#8e8e8e" stroke-width="1"/>
<path d="M1025 1345H1095L1060 1415Z" fill="#ec8b70" stroke="#8e8e8e" stroke-width="1"/>
<path d="M1228 1336.5H1298L1263 1406.5Z" fill="#d92b28" stroke="#8e8e8e" stroke-width="1"/>
<path d="M1344.5 1036.8H1414.5L1379.5 1106.8Z" fill="#e25444" stroke="#8e8e8e" stroke-width="1"/>
<path d="M1551.2 1304.8H1621.2L1586.2 1374.8Z" fill="#6aa3c2" stroke="#8e8e8e" stroke-width="1"/>
<path d="M1549 99.8H1619L1584 169.8Z" fill="#6aa3c2" stroke="#8e8e8e" stroke-width="1"/>
<path d="M2005.5 195.8H2075.5L2040.5 265.8Z" fill="#6aa3c2" stroke="#8e8e8e" stroke-width="1"/>
<path d="M1655 459H1725L1690 529Z" fill="#97b9bd" stroke="#8e8e8e" stroke-width="1"/>
<path d="M2065.8 409.8H2135.8L2100.8 479.8Z" fill="#6aa3c2" stroke="#8e8e8e" stroke-width="1"/>
<path d="M1908.2 592.8H1978.2L1943.2 662.8Z" fill="#6aa3c2" stroke="#8e8e8e" stroke-width="1"/>
<path d="M1792.5 666.2H1862.5L1827.5 736.2Z" fill="#97b9bd" stroke="#8e8e8e" stroke-width="1"/>
<path d="M2098.8 764.8H2168.8L2133.8 834.8Z" fill="#6aa3c2" stroke="#8e8e8e" stroke-width="1"/>
<path d="M1768.5 791.8H1838.5L1803.5 861.8Z" fill="#6aa3c2" stroke="#8e8e8e" stroke-width="1"/>
<path d="M1787 905.5H1857L1822 975.5Z" fill="#97b9bd" stroke="#8e8e8e" stroke-width="1"/>
<path d="M1670.5 968.8H1740.5L1705.5 1038.8Z" fill="#6aa3c2" stroke="#8e8e8e" stroke-width="1"/>
<path d="M1930.5 1077H2000.5L1965.5 1147Z" fill="#6aa3c2" stroke="#8e8e8e" stroke-width="1"/>
<path d="M2149.5 1109H2219.5L2184.5 1179Z" fill="#6aa3c2" stroke="#8e8e8e" stroke-width="1"/>
<path d="M1686 1143H1756L1721 1213Z" fill="#6aa3c2" stroke="#8e8e8e" stroke-width="1"/>
<path d="M1828.5 1186.5H1898.5L1863.5 1256.5Z" fill="#6aa3c2" stroke="#8e8e8e" stroke-width="1"/>
<path d="M1732 1349.8H1802L1767 1419.8Z" fill="#6aa3c2" stroke="#8e8e8e" stroke-width="1"/>
<path d="M1951.5 1337.5H2021.5L1986.5 1407.5Z" fill="#6aa3c2" stroke="#8e8e8e" stroke-width="1"/>
<text x="143.8" y="148.5" textLength="163.8" lengthAdjust="spacingAndGlyphs">CACNA2D2</text>
<text x="239.5" y="111.5" textLength="91.3" lengthAdjust="spacingAndGlyphs">TACC1</text>
<text x="330.7" y="103.5" textLength="80" lengthAdjust="spacingAndGlyphs">DKK2</text>
<text x="409" y="76.5" textLength="66" lengthAdjust="spacingAndGlyphs">PID1</text>
<text x="492.8" y="63.3" textLength="91.3" lengthAdjust="spacingAndGlyphs">VGLL3</text>
<text x="570.4" y="107.3" textLength="100.5" lengthAdjust="spacingAndGlyphs">IGSF10</text>
<text x="491.8" y="141.3" textLength="100.3" lengthAdjust="spacingAndGlyphs">NR4A3</text>
<text x="406.5" y="163.5" textLength="75.8" lengthAdjust="spacingAndGlyphs">GPC3</text>
<text x="304" y="174.5" textLength="129.5" lengthAdjust="spacingAndGlyphs">CBFA2T3</text>
<text x="220.5" y="202.5" textLength="100" lengthAdjust="spacingAndGlyphs">PDZD4</text>
<text x="142" y="239" textLength="88.8" lengthAdjust="spacingAndGlyphs">FOSL2</text>
<text x="283" y="263" textLength="131.2" lengthAdjust="spacingAndGlyphs">C10orf54</text>
<text x="382" y="243" textLength="62.5" lengthAdjust="spacingAndGlyphs">SIK1</text>
<text x="495.5" y="253" textLength="88.7" lengthAdjust="spacingAndGlyphs">ZFP36</text>
<text x="558.9" y="211.2" textLength="121.6" lengthAdjust="spacingAndGlyphs">MYADM</text>
<text x="99" y="309" textLength="73.8" lengthAdjust="spacingAndGlyphs">TNS1</text>
<text x="196.5" y="299.5" textLength="78.7" lengthAdjust="spacingAndGlyphs">APLN</text>
<text x="357" y="326" textLength="123.8" lengthAdjust="spacingAndGlyphs">FAM43A</text>
<text x="464" y="315.4" textLength="74.9" lengthAdjust="spacingAndGlyphs">EGR3</text>
<text x="588.7" y="308.3" textLength="142.7" lengthAdjust="spacingAndGlyphs">FAM107A</text>
<text x="546" y="363.9" textLength="82.8" lengthAdjust="spacingAndGlyphs">NRN1</text>
<text x="648" y="66.5" textLength="96.3" lengthAdjust="spacingAndGlyphs">WWC2</text>
<text x="802.5" y="84.5" textLength="193.7" lengthAdjust="spacingAndGlyphs">ST6GALNAC3</text>
<text x="708.3" y="132.6" textLength="101.5" lengthAdjust="spacingAndGlyphs">ELMO1</text>
<text x="637.3" y="170.7" textLength="91.9" lengthAdjust="spacingAndGlyphs">FOXF2</text>
<text x="748.8" y="208.2" textLength="114.1" lengthAdjust="spacingAndGlyphs">LIMCH1</text>
<text x="672.3" y="252.3" textLength="101.9" lengthAdjust="spacingAndGlyphs">EDNRB</text>
<text x="745.5" y="290.5" textLength="135.6" lengthAdjust="spacingAndGlyphs">ANGPTL1</text>
<text x="676.2" y="344.9" textLength="100" lengthAdjust="spacingAndGlyphs">PDZD2</text>
<text x="625" y="401.7" textLength="80" lengthAdjust="spacingAndGlyphs">RHOJ</text>
<text x="179.6" y="376.5" textLength="77.5" lengthAdjust="spacingAndGlyphs">PDK4</text>
<text x="275.4" y="382.7" textLength="97.5" lengthAdjust="spacingAndGlyphs">HBEGF</text>
<text x="376.6" y="393.5" textLength="100" lengthAdjust="spacingAndGlyphs">KIF26A</text>
<text x="471.2" y="401.8" textLength="95.5" lengthAdjust="spacingAndGlyphs">NFASC</text>
<text x="544.8" y="438.5" textLength="106.4" lengthAdjust="spacingAndGlyphs">ATOH8</text>
<text x="87.7" y="415.3" textLength="81.2" lengthAdjust="spacingAndGlyphs">AATK</text>
<text x="211" y="442.1" textLength="63" lengthAdjust="spacingAndGlyphs">FIGF</text>
<text x="317" y="447.4" textLength="132.5" lengthAdjust="spacingAndGlyphs">C13orf36</text>
<text x="425.6" y="455.3" textLength="76.3" lengthAdjust="spacingAndGlyphs">TOX2</text>
<text x="144" y="484.4" textLength="116.3" lengthAdjust="spacingAndGlyphs">TBXA2R</text>
<text x="213.8" y="975.5" textLength="102.5" lengthAdjust="spacingAndGlyphs">MSRB3</text>
<text x="100" y="1009.5" textLength="116.8" lengthAdjust="spacingAndGlyphs">FERMT2</text>
<text x="323.8" y="1007.2" textLength="102.5" lengthAdjust="spacingAndGlyphs">NTNG1</text>
<text x="213.8" y="1042.8" textLength="136.8" lengthAdjust="spacingAndGlyphs">ARHGEF4</text>
<text x="61" y="1096.2" textLength="88.7" lengthAdjust="spacingAndGlyphs">LATS2</text>
<text x="161.2" y="1107.2" textLength="75" lengthAdjust="spacingAndGlyphs">LDB2</text>
<text x="293.8" y="1087.2" textLength="104.3" lengthAdjust="spacingAndGlyphs">NDRG4</text>
<text x="416.2" y="1080" textLength="107.5" lengthAdjust="spacingAndGlyphs">SLC6A4</text>
<text x="506.2" y="1109.8" textLength="77.5" lengthAdjust="spacingAndGlyphs">GRK5</text>
<text x="242.5" y="1150" textLength="165.7" lengthAdjust="spacingAndGlyphs">PHOSPHO1</text>
<text x="87" y="1191.8" textLength="65" lengthAdjust="spacingAndGlyphs">GHR</text>
<text x="365" y="1183.2" textLength="103" lengthAdjust="spacingAndGlyphs">MASP1</text>
<text x="509.2" y="1201.2" textLength="60" lengthAdjust="spacingAndGlyphs">ARC</text>
<text x="169.2" y="1230" textLength="91.3" lengthAdjust="spacingAndGlyphs">TRPC6</text>
<text x="430" y="1224.5" textLength="112.5" lengthAdjust="spacingAndGlyphs">SPTBN1</text>
<text x="272.5" y="1253.2" textLength="135.7" lengthAdjust="spacingAndGlyphs">PITPNM2</text>
<text x="347.5" y="1294.8" textLength="104.2" lengthAdjust="spacingAndGlyphs">BMPER</text>
<text x="192.8" y="1323" textLength="118" lengthAdjust="spacingAndGlyphs">PHLDB2</text>
<text x="942.3" y="166.3" textLength="142" lengthAdjust="spacingAndGlyphs">FAM167A</text>
<text x="1163" y="209.5" textLength="75.2" lengthAdjust="spacingAndGlyphs">MME</text>
<text x="1017" y="247.5" textLength="135" lengthAdjust="spacingAndGlyphs">STARD13</text>
<text x="992.5" y="351.2" textLength="55.7" lengthAdjust="spacingAndGlyphs">TNF</text>
<text x="1257" y="245.2" textLength="94.5" lengthAdjust="spacingAndGlyphs">CRIM1</text>
<text x="1287.5" y="340.5" textLength="96.5" lengthAdjust="spacingAndGlyphs">BAALC</text>
<text x="1388.8" y="370" textLength="90" lengthAdjust="spacingAndGlyphs">HLA-E</text>
<text x="1108" y="406.2" textLength="56.7" lengthAdjust="spacingAndGlyphs">ERG</text>
<text x="1211.8" y="509.5" textLength="90" lengthAdjust="spacingAndGlyphs">EPAS1</text>
<text x="1374" y="497.2" textLength="67.5" lengthAdjust="spacingAndGlyphs">MYC</text>
<text x="1327.5" y="580.2" textLength="92.5" lengthAdjust="spacingAndGlyphs">TIMP3</text>
<text x="1269.2" y="632.2" textLength="92.5" lengthAdjust="spacingAndGlyphs">PRKCE</text>
<text x="1385.5" y="637.2" textLength="100.5" lengthAdjust="spacingAndGlyphs">ADRB2</text>
<text x="1474.2" y="617.2" textLength="77.5" lengthAdjust="spacingAndGlyphs">WFS1</text>
<text x="1197.5" y="675.5" textLength="74.3" lengthAdjust="spacingAndGlyphs">RECK</text>
<text x="1475.5" y="701.5" textLength="95.7" lengthAdjust="spacingAndGlyphs">HSPB6</text>
<text x="1579.2" y="726.2" textLength="108.2" lengthAdjust="spacingAndGlyphs">TGFBR3</text>
<text x="1525.5" y="781.2" textLength="121.5" lengthAdjust="spacingAndGlyphs">CDKN1C</text>
<text x="1196.2" y="804.8" textLength="86.2" lengthAdjust="spacingAndGlyphs">RHOB</text>
<text x="1583" y="854.2" textLength="85" lengthAdjust="spacingAndGlyphs">TCF21</text>
<text x="1491.2" y="873.8" textLength="85" lengthAdjust="spacingAndGlyphs">EGFL7</text>
<text x="1127" y="899.8" textLength="124.7" lengthAdjust="spacingAndGlyphs">SEMA6A</text>
<text x="1288" y="910" textLength="93" lengthAdjust="spacingAndGlyphs">SOCS3</text>
<text x="1198.8" y="948" textLength="56.3" lengthAdjust="spacingAndGlyphs">FOS</text>
<text x="1364.5" y="961" textLength="90" lengthAdjust="spacingAndGlyphs">CXCL3</text>
<text x="1459" y="949.8" textLength="73.5" lengthAdjust="spacingAndGlyphs">EGR1</text>
<text x="85" y="568.2" textLength="93" lengthAdjust="spacingAndGlyphs">EFNB2</text>
<text x="223.8" y="588" textLength="160" lengthAdjust="spacingAndGlyphs">KIAA1324L</text>
<text x="356" y="587.5" textLength="80" lengthAdjust="spacingAndGlyphs">CLIC5</text>
<text x="398" y="682.5" textLength="99.3" lengthAdjust="spacingAndGlyphs">LPHN2</text>
<text x="595.5" y="608.2" textLength="100" lengthAdjust="spacingAndGlyphs">PPM1F</text>
<text x="730.5" y="609" textLength="125" lengthAdjust="spacingAndGlyphs">SEMA5A</text>
<text x="851.8" y="584.8" textLength="102" lengthAdjust="spacingAndGlyphs">DOCK4</text>
<text x="975.5" y="551" textLength="162.5" lengthAdjust="spacingAndGlyphs">ARHGAP29</text>
<text x="1051.2" y="656.1" textLength="131.8" lengthAdjust="spacingAndGlyphs">RAPGEF4</text>
<text x="79.2" y="743.2" textLength="85.5" lengthAdjust="spacingAndGlyphs">KLF13</text>
<text x="186.2" y="746.8" textLength="89.5" lengthAdjust="spacingAndGlyphs">GRIA1</text>
<text x="511.8" y="776.2" textLength="114.3" lengthAdjust="spacingAndGlyphs">SH3BP5</text>
<text x="718" y="820.2" textLength="95" lengthAdjust="spacingAndGlyphs">LRCH2</text>
<text x="850.5" y="804" textLength="156.7" lengthAdjust="spacingAndGlyphs">NDUFA4L2</text>
<text x="1082.5" y="790.8" textLength="114.2" lengthAdjust="spacingAndGlyphs">CSRNP1</text>
<text x="998.8" y="841.5" textLength="131.3" lengthAdjust="spacingAndGlyphs">COL13A1</text>
<text x="236.8" y="880.5" textLength="145.5" lengthAdjust="spacingAndGlyphs">ARHGAP6</text>
<text x="869.2" y="911" textLength="70.5" lengthAdjust="spacingAndGlyphs">STC2</text>
<text x="976.8" y="924.2" textLength="109" lengthAdjust="spacingAndGlyphs">GPM6A</text>
<text x="798" y="1069.2" textLength="107.5" lengthAdjust="spacingAndGlyphs">COX4I2</text>
<text x="928.8" y="1057.5" textLength="80.7" lengthAdjust="spacingAndGlyphs">BDNF</text>
<text x="1037" y="1183.5" textLength="92.5" lengthAdjust="spacingAndGlyphs">FABP4</text>
<text x="1152.5" y="1204" textLength="99.3" lengthAdjust="spacingAndGlyphs">PPARG</text>
<text x="796" y="1248.5" textLength="111" lengthAdjust="spacingAndGlyphs">MDGA1</text>
<text x="569.5" y="1275.1" textLength="110" lengthAdjust="spacingAndGlyphs">SLC2A3</text>
<text x="663" y="1326.2" textLength="143" lengthAdjust="spacingAndGlyphs">ANKRD29</text>
<text x="899.2" y="1338.2" textLength="121.2" lengthAdjust="spacingAndGlyphs">PECAM1</text>
<text x="1009.2" y="1288.5" textLength="74" lengthAdjust="spacingAndGlyphs">FOSB</text>
<text x="1110" y="1290" textLength="77.5" lengthAdjust="spacingAndGlyphs">JUNB</text>
<text x="1260.5" y="1288" textLength="88.7" lengthAdjust="spacingAndGlyphs">MFNG</text>
<text x="1246.2" y="1046" textLength="68" lengthAdjust="spacingAndGlyphs">KLF4</text>
<text x="1505.5" y="1042.2" textLength="117.5" lengthAdjust="spacingAndGlyphs">AKAP12</text>
<text x="1274" y="1139" textLength="92" lengthAdjust="spacingAndGlyphs">CYYR1</text>
<text x="1528" y="1131" textLength="140" lengthAdjust="spacingAndGlyphs">KHDRBS2</text>
<text x="1324.6" y="1199.7" textLength="106" lengthAdjust="spacingAndGlyphs">MAPK4</text>
<text x="1477.5" y="1191.1" textLength="123" lengthAdjust="spacingAndGlyphs">PKNOX2</text>
<text x="1406" y="1250.5" textLength="100" lengthAdjust="spacingAndGlyphs">NR4A2</text>
<text x="1590.2" y="1253.3" textLength="108.7" lengthAdjust="spacingAndGlyphs">SLC6A3</text>
<text x="1464" y="107.2" textLength="93.7" lengthAdjust="spacingAndGlyphs">CENPF</text>
<text x="1699.5" y="111.5" textLength="93.8" lengthAdjust="spacingAndGlyphs">TRIM2</text>
<text x="1475" y="218" textLength="87.5" lengthAdjust="spacingAndGlyphs">RHOV</text>
<text x="1910.5" y="135.5" textLength="83.2" lengthAdjust="spacingAndGlyphs">IGSF9</text>
<text x="2040.5" y="113.5" textLength="71.7" lengthAdjust="spacingAndGlyphs">SBK1</text>
<text x="2155.5" y="166" textLength="149" lengthAdjust="spacingAndGlyphs">PPP1R14B</text>
<text x="1564" y="296" textLength="90.8" lengthAdjust="spacingAndGlyphs">PSAT1</text>
<text x="1667.8" y="308.5" textLength="96.3" lengthAdjust="spacingAndGlyphs">UHRF1</text>
<text x="1751.3" y="269" textLength="100" lengthAdjust="spacingAndGlyphs">TRIP13</text>
<text x="1895" y="305.7" textLength="118" lengthAdjust="spacingAndGlyphs">GALNT7</text>
<text x="1789.2" y="344.8" textLength="73.2" lengthAdjust="spacingAndGlyphs">MSI2</text>
<text x="1523.8" y="371.2" textLength="102.5" lengthAdjust="spacingAndGlyphs">KCNN4</text>
<text x="1862.5" y="417.2" textLength="114.3" lengthAdjust="spacingAndGlyphs">IQGAP3</text>
<text x="2123" y="354.2" textLength="105.8" lengthAdjust="spacingAndGlyphs">MEX3A</text>
<text x="2230.5" y="403.2" textLength="73.7" lengthAdjust="spacingAndGlyphs">ENC1</text>
<text x="1523" y="466" textLength="102.5" lengthAdjust="spacingAndGlyphs">TMED3</text>
<text x="1934.2" y="462.2" textLength="75" lengthAdjust="spacingAndGlyphs">NT5E</text>
<text x="1568" y="549.8" textLength="101.3" lengthAdjust="spacingAndGlyphs">AURKB</text>
<text x="1853" y="549.8" textLength="96.2" lengthAdjust="spacingAndGlyphs">EPHB2</text>
<text x="2038.8" y="548.5" textLength="94.2" lengthAdjust="spacingAndGlyphs">POF1B</text>
<text x="2244.5" y="529.5" textLength="167" lengthAdjust="spacingAndGlyphs">TMEM184A</text>
<text x="2141.8" y="587.2" textLength="155.5" lengthAdjust="spacingAndGlyphs">ARHGEF38</text>
<text x="1654.5" y="630.1" textLength="53.2" lengthAdjust="spacingAndGlyphs">RET</text>
<text x="1749.2" y="602.2" textLength="103.5" lengthAdjust="spacingAndGlyphs">NCAPG</text>
<text x="2135" y="696.2" textLength="63.2" lengthAdjust="spacingAndGlyphs">NHS</text>
<text x="2032.5" y="735.2" textLength="121.7" lengthAdjust="spacingAndGlyphs">BCL2L15</text>
<text x="2225.5" y="727.5" textLength="75" lengthAdjust="spacingAndGlyphs">GPT2</text>
<text x="1716.8" y="761" textLength="124.5" lengthAdjust="spacingAndGlyphs">HOXA10</text>
<text x="2006.8" y="858.2" textLength="111.3" lengthAdjust="spacingAndGlyphs">RASAL1</text>
<text x="2246.8" y="861.8" textLength="77" lengthAdjust="spacingAndGlyphs">SOX4</text>
<text x="2055.5" y="915" textLength="115" lengthAdjust="spacingAndGlyphs">FBXO32</text>
<text x="2176.8" y="934" textLength="105" lengthAdjust="spacingAndGlyphs">MACC1</text>
<text x="1698" y="905" textLength="100.3" lengthAdjust="spacingAndGlyphs">MYBL2</text>
<text x="1965.5" y="1011" textLength="120.5" lengthAdjust="spacingAndGlyphs">PKMYT1</text>
<text x="2140.5" y="1045" textLength="112" lengthAdjust="spacingAndGlyphs">HMGB3</text>
<text x="2250.5" y="1044" textLength="66.3" lengthAdjust="spacingAndGlyphs">SIX1</text>
<text x="1789.2" y="1092.2" textLength="84" lengthAdjust="spacingAndGlyphs">BIRC5</text>
<text x="2069.5" y="1215" textLength="100" lengthAdjust="spacingAndGlyphs">CDCA8</text>
<text x="2300.3" y="1219.1" textLength="92.5" lengthAdjust="spacingAndGlyphs">ERO1L</text>
<text x="1766.8" y="1301.2" textLength="83" lengthAdjust="spacingAndGlyphs">VCAN</text>
<text x="1986.8" y="1291" textLength="77" lengthAdjust="spacingAndGlyphs">SOX2</text>
<text x="2137" y="1320.8" textLength="103.8" lengthAdjust="spacingAndGlyphs">HOXB2</text>
<text x="2257" y="1309.8" textLength="87.5" lengthAdjust="spacingAndGlyphs">ESRP1</text>
<text x="1059.5" y="109.5" textLength="183.7" lengthAdjust="spacingAndGlyphs">hsa-miR-877</text>
<text x="1290.5" y="153" textLength="184.8" lengthAdjust="spacingAndGlyphs">hsa-miR-34a</text>
<text x="1142" y="311" textLength="149.5" lengthAdjust="spacingAndGlyphs">hsa-miR-9</text>
<text x="865.6" y="415.5" textLength="184.9" lengthAdjust="spacingAndGlyphs">hsa-miR-182</text>
<text x="1292" y="437.2" textLength="215" lengthAdjust="spacingAndGlyphs">hsa-miR-148a*</text>
<text x="938" y="726.2" textLength="166.8" lengthAdjust="spacingAndGlyphs">hsa-miR-96</text>
<text x="1328" y="771" textLength="166.3" lengthAdjust="spacingAndGlyphs">hsa-miR-21</text>
<text x="661.2" y="971" textLength="203.7" lengthAdjust="spacingAndGlyphs">hsa-miR-135b</text>
<text x="1114" y="1106.5" textLength="184.9" lengthAdjust="spacingAndGlyphs">hsa-miR-375</text>
<text x="897" y="1162" textLength="184.9" lengthAdjust="spacingAndGlyphs">hsa-miR-210</text>
<text x="665.8" y="1190" textLength="184.9" lengthAdjust="spacingAndGlyphs">hsa-miR-493</text>
<text x="1060" y="1393.5" textLength="184.9" lengthAdjust="spacingAndGlyphs">hsa-miR-224</text>
<text x="1263" y="1385" textLength="183.7" lengthAdjust="spacingAndGlyphs">hsa-miR-205</text>
<text x="1379.5" y="1085.2" textLength="184.2" lengthAdjust="spacingAndGlyphs">hsa-miR-183</text>
<text x="1586.2" y="1353.2" textLength="183.5" lengthAdjust="spacingAndGlyphs">hsa-miR-30a</text>
<text x="1584" y="148.2" textLength="147.5" lengthAdjust="spacingAndGlyphs">hsa-miR-1</text>
<text x="2040.5" y="244.2" textLength="234.7" lengthAdjust="spacingAndGlyphs">hsa-miR-486-3p</text>
<text x="1690" y="507.5" textLength="148.3" lengthAdjust="spacingAndGlyphs">hsa-let-7b</text>
<text x="2100.8" y="458.2" textLength="234.4" lengthAdjust="spacingAndGlyphs">hsa-miR-139-5p</text>
<text x="1943.2" y="641.2" textLength="198.2" lengthAdjust="spacingAndGlyphs">hsa-miR-126*</text>
<text x="1827.5" y="714.8" textLength="147.2" lengthAdjust="spacingAndGlyphs">hsa-let-7a</text>
<text x="2133.8" y="813.2" textLength="234.2" lengthAdjust="spacingAndGlyphs">hsa-miR-338-3p</text>
<text x="1803.5" y="840.2" textLength="197.4" lengthAdjust="spacingAndGlyphs">hsa-miR-30a*</text>
<text x="1822" y="954" textLength="199" lengthAdjust="spacingAndGlyphs">hsa-miR-30b*</text>
<text x="1705.5" y="1017.2" textLength="226" lengthAdjust="spacingAndGlyphs">hsa-miR-30c-2*</text>
<text x="1965.5" y="1125.5" textLength="196.7" lengthAdjust="spacingAndGlyphs">hsa-miR-27a*</text>
<text x="2184.5" y="1157.5" textLength="234.2" lengthAdjust="spacingAndGlyphs">hsa-miR-338-5p</text>
<text x="1721" y="1191.5" textLength="185.7" lengthAdjust="spacingAndGlyphs">hsa-miR-218</text>
<text x="1863.5" y="1235" textLength="184.2" lengthAdjust="spacingAndGlyphs">hsa-miR-203</text>
<text x="1767" y="1398.2" textLength="185.4" lengthAdjust="spacingAndGlyphs">hsa-miR-138</text>
<text x="1986.5" y="1386" textLength="184.9" lengthAdjust="spacingAndGlyphs">hsa-miR-126</text>
</svg>
</body></html>
